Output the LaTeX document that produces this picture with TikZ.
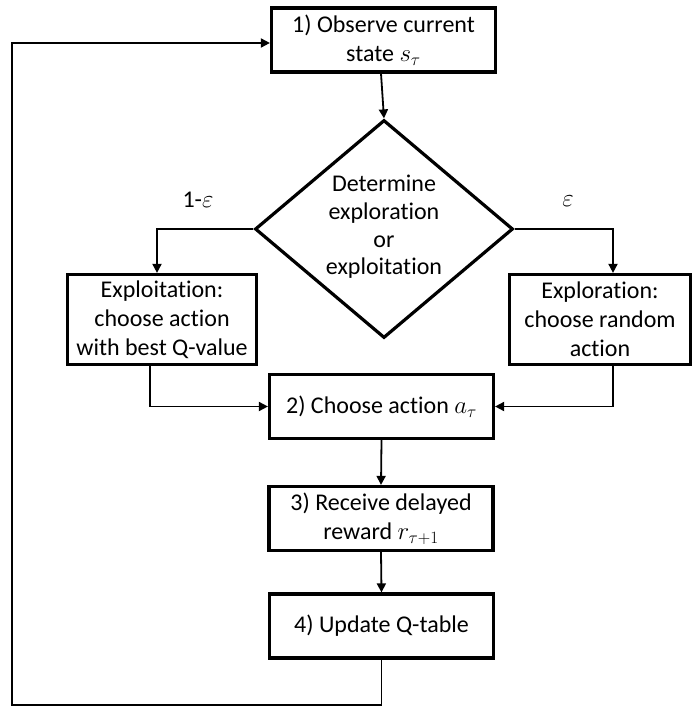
\documentclass[tikz,border=0pt]{standalone}
\usepackage{fontspec}
\setmainfont{Carlito}[Ligatures=NoCommon]
\usetikzlibrary{shapes.geometric,arrows.meta}
\begin{document}
\begin{tikzpicture}[x=1pt,y=-1pt,
  every node/.style={font=\fontsize{24}{29}\selectfont, text=black},
  box/.style={draw, line width=3.2pt, align=center, inner sep=0pt,
    minimum width=224pt, minimum height=64pt},
  sidebox/.style={draw, line width=3.2pt, align=center, inner sep=0pt,
    minimum height=90pt},
  decision/.style={draw, diamond, line width=3.2pt, inner sep=0pt,
    minimum width=258pt, minimum height=218pt},
  flow/.style={line width=1.8pt, -{Triangle[length=9pt,width=9pt]}},
  lbl/.style={inner sep=0pt}
]
\useasboundingbox (0,0) rectangle (693,706);

% main steps
\node[box] (obs) at (383.5,40) {1) Observe current\\state $s_\tau$};
\node[decision] (dec) at (384,229) {};
\node[lbl, align=center, font=\fontsize{24}{27.7}\selectfont] (dectxt) at (384,227)
  {Determine\\exploration\\or\\exploitation};
\node[sidebox, minimum width=189pt] (exploit) at (162,319.5)
  {Exploitation:\\choose action\\with best Q-value};
\node[sidebox, minimum width=181pt] (explore) at (600,319.5)
  {Exploration:\\choose random\\action};
\node[box] (act) at (381.5,406.5) {2) Choose action $a_\tau$};
\node[box] (rew) at (381,518.5) {3) Receive delayed\\reward $r_{\tau+1}$};
\node[box] (upd) at (381.5,626) {4) Update Q-table};

% branch probabilities
\node[lbl] (pexploit) at (198,200) {1-$\varepsilon$};
\node[lbl] (pexplore) at (568,201) {$\varepsilon$};

% connectors
\draw[flow] (obs.south -| 381,0) -- (dec.north);
\draw[flow] (dec.west) -| ([xshift=-5pt]exploit.north);
\draw[flow] (dec.east) -| ([xshift=13pt]explore.north);
\draw[flow] ([xshift=-12pt]exploit.south) |- (act.west);
\draw[flow] ([xshift=13pt]explore.south) |- (act.east);
\draw[flow] (act.south) -- (rew.north);
\draw[flow] (rew.south) -- (upd.north);

% loop back to the first step
\coordinate (loopcorner) at (12,705);
\draw[flow] (upd.south) |- (loopcorner) |- ([yshift=-3pt]obs.west);
\end{tikzpicture}
\end{document}
